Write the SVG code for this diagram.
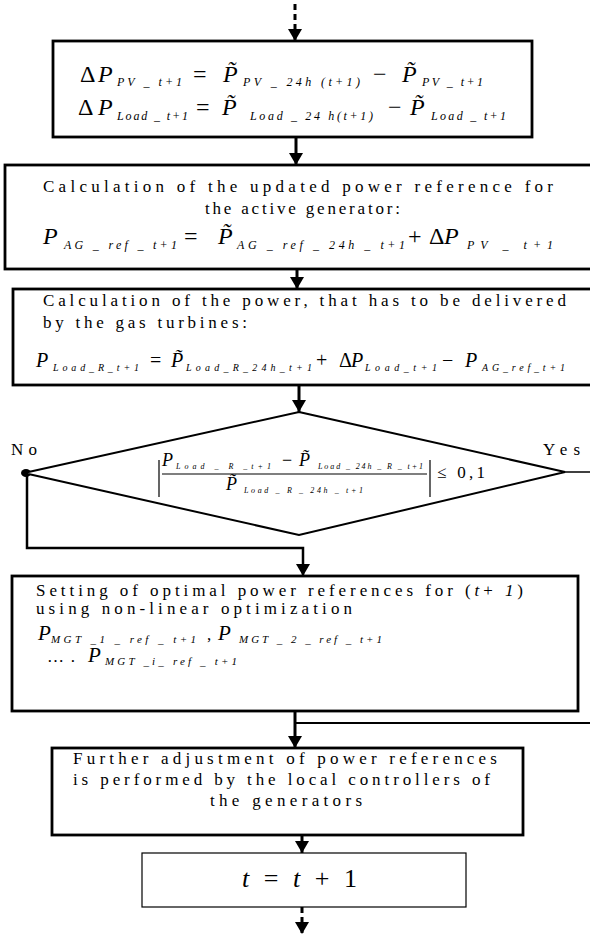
<svg xmlns="http://www.w3.org/2000/svg" width="590" height="936" viewBox="0 0 590 936">
<style>
.box{fill:#fff;stroke:#000;stroke-width:2.8}
.thin{stroke-width:1.2}
.t{font-family:"Liberation Serif","Times New Roman",serif;font-size:17px;fill:#000}
.m{font-family:"Liberation Serif","Times New Roman",serif;font-style:italic;font-size:24px;fill:#000}
.n{font-family:"Liberation Serif","Times New Roman",serif;font-size:24px;fill:#000}
.s{font-family:"Liberation Serif","Times New Roman",serif;font-style:italic;font-size:12px;fill:#000}
.c{fill:none;stroke:#000;stroke-width:3}
.d{stroke-dasharray:6 4}
.fl{stroke:#000;stroke-width:1.2;fill:none}
</style>
<defs>
<marker id="ah" viewBox="0 0 12 14" refX="12" refY="7" markerWidth="12" markerHeight="14" markerUnits="userSpaceOnUse" orient="auto">
<path d="M0,0 L12,7 L0,14 z" fill="#000"/>
</marker>
</defs>
<g id="connectors">
<path class="c d" d="M295,4 V41" marker-end="url(#ah)"/>
<path class="c" d="M296,137 V165" marker-end="url(#ah)"/>
<path class="c" d="M297,269 V289" marker-end="url(#ah)"/>
<path class="c" d="M299,385 V412" marker-end="url(#ah)"/>
<path class="c" style="stroke-width:2.5" d="M27,473 V548 H303 V576" marker-end="url(#ah)"/>
<path class="c" style="stroke-width:1.5" d="M565,472 H590"/>
<path class="c" style="stroke-width:2" d="M590,723 H295"/>
<path class="c" d="M295,711 V748" marker-end="url(#ah)"/>
<path class="c" d="M302,835 V853" marker-end="url(#ah)"/>
<path class="c d" d="M302,907 V934" marker-end="url(#ah)"/>
<ellipse cx="26" cy="473" rx="5" ry="4" fill="#000"/>
</g>
<g id="n1">
<rect class="box" x="53" y="41" width="479" height="96"/>
<text class="n" x="80" y="82">Δ</text>
<text class="m" x="98" y="82">P</text>
<text class="s" x="117" y="86" textLength="65" lengthAdjust="spacing">PV _ t+1</text>
<text class="n" x="193" y="82">=</text>
<text class="m" x="223" y="82">P̃</text>
<text class="s" x="243" y="86" textLength="117" lengthAdjust="spacing">PV _ 24h (t+1)</text>
<text class="n" x="373" y="82">−</text>
<text class="m" x="402" y="82">P̃</text>
<text class="s" x="422" y="86" textLength="61" lengthAdjust="spacing">PV _ t+1</text>
<text class="n" x="78" y="115">Δ</text>
<text class="m" x="98" y="115">P</text>
<text class="s" x="117" y="120" textLength="71" lengthAdjust="spacing">Load _ t+1</text>
<text class="n" x="196" y="115">=</text>
<text class="m" x="222" y="115">P̃</text>
<text class="s" x="250" y="120" textLength="123" lengthAdjust="spacing">Load _ 24 h(t+1)</text>
<text class="n" x="388" y="115">−</text>
<text class="m" x="410" y="115">P̃</text>
<text class="s" x="431" y="120" textLength="75" lengthAdjust="spacing">Load _ t+1</text>
</g>
<g id="n2">
<rect class="box" x="5" y="165" width="600" height="104"/>
<text class="t" x="43" y="192" textLength="510" lengthAdjust="spacing">Calculation of the updated power reference for</text>
<text class="t" x="205" y="214" textLength="195" lengthAdjust="spacing">the active generator:</text>
<text class="m" x="43" y="244">P</text>
<text class="s" x="64" y="249" textLength="113" lengthAdjust="spacing">AG _ ref _ t+1</text>
<text class="n" x="184" y="244">=</text>
<text class="m" x="218" y="244">P̃</text>
<text class="s" x="237" y="249" textLength="168" lengthAdjust="spacing">AG _ ref _ 24h _ t+1</text>
<text class="n" x="408" y="244">+</text>
<text class="n" x="429" y="244">Δ</text>
<text class="m" x="444" y="244">P</text>
<text class="s" x="467" y="249" textLength="86" lengthAdjust="spacing">PV _ t+1</text>
</g>
<g id="n3">
<rect class="box" x="13" y="289" width="600" height="96"/>
<text class="t" x="43" y="306" textLength="523" lengthAdjust="spacing">Calculation of the power, that has to be delivered</text>
<text class="t" x="43" y="328" textLength="204" lengthAdjust="spacing">by the gas turbines:</text>
<text class="m" x="36" y="367" style="font-size:20px">P</text>
<text class="s" x="53" y="371" textLength="86" lengthAdjust="spacing" style="font-size:10px">Load_R_t+1</text>
<text class="n" x="150" y="367" style="font-size:20px">=</text>
<text class="m" x="171" y="367" style="font-size:20px">P̃</text>
<text class="s" x="186" y="371" textLength="126" lengthAdjust="spacing" style="font-size:10px">Load_R_24h_t+1</text>
<text class="n" x="316" y="367" style="font-size:20px">+</text>
<text class="n" x="339" y="367" style="font-size:20px">Δ</text>
<text class="m" x="351" y="367" style="font-size:20px">P</text>
<text class="s" x="365" y="371" textLength="72" lengthAdjust="spacing" style="font-size:10px">Load_t+1</text>
<text class="n" x="442" y="367" style="font-size:20px">−</text>
<text class="m" x="465" y="367" style="font-size:20px">P</text>
<text class="s" x="482" y="371" textLength="83" lengthAdjust="spacing" style="font-size:10px">AG_ref_t+1</text>
</g>
<g id="n4">
<polygon points="299,412 565,472 299,535 24,473" fill="#fff" stroke="#000" stroke-width="2"/>
<text class="t" x="11" y="455" textLength="26" lengthAdjust="spacing">No</text>
<text class="t" x="543" y="455" textLength="37" lengthAdjust="spacing">Yes</text>
<path class="fl" d="M159,460 V497 M430,460 V497 M162,474 H427"/>
<text class="m" x="162" y="466" style="font-size:18px">P</text>
<text class="s" x="176" y="469" textLength="95" lengthAdjust="spacing" style="font-size:8px">Load _ R _t+1</text>
<text class="n" x="282" y="466" style="font-size:18px">−</text>
<text class="m" x="299" y="466" style="font-size:18px">P̃</text>
<text class="s" x="318" y="469" textLength="105" lengthAdjust="spacing" style="font-size:8px">Load _ 24h _ R _ t+1</text>
<text class="m" x="226" y="490" style="font-size:18px">P̃</text>
<text class="s" x="244" y="493" textLength="119" lengthAdjust="spacing" style="font-size:8px">Load _ R _ 24h _ t+1</text>
<text class="t" x="437" y="478" textLength="48" lengthAdjust="spacing">≤ 0,1</text>
</g>
<g id="n5">
<rect class="box" x="12" y="576" width="566" height="135"/>
<text class="t" x="36" y="596" textLength="487" lengthAdjust="spacing">Setting of optimal power references for (<tspan font-style="italic">t</tspan>+ <tspan font-style="italic">1</tspan>)</text>
<text class="t" x="36" y="614" textLength="316" lengthAdjust="spacing">using non-linear optimization</text>
<text class="m" x="38" y="640" style="font-size:21px">P</text>
<text class="s" x="51" y="643" textLength="145" lengthAdjust="spacing" style="font-size:11px">MGT _1 _ ref _ t+1</text>
<text class="t" x="207" y="640">,</text>
<text class="m" x="218" y="640" style="font-size:21px">P</text>
<text class="s" x="239" y="643" textLength="143" lengthAdjust="spacing" style="font-size:11px">MGT _ 2 _ ref _ t+1</text>
<text class="t" x="47" y="662" textLength="28" lengthAdjust="spacing">… .</text>
<text class="m" x="88" y="662" style="font-size:21px">P</text>
<text class="s" x="105" y="665" textLength="132" lengthAdjust="spacing" style="font-size:11px">MGT _i_ ref _ t+1</text>
</g>
<g id="n6">
<rect class="box" x="52" y="748" width="471" height="87"/>
<text class="t" x="73" y="764" textLength="424" lengthAdjust="spacing">Further adjustment of power references</text>
<text class="t" x="73" y="785" textLength="417" lengthAdjust="spacing">is performed by the local controllers of</text>
<text class="t" x="210" y="806" textLength="152" lengthAdjust="spacing">the generators</text>
</g>
<g id="n7">
<rect class="box thin" x="142" y="853" width="324" height="54"/>
<text class="n" x="242" y="887" textLength="115" lengthAdjust="spacing" style="font-size:26px"><tspan font-style="italic">t</tspan> = <tspan font-style="italic">t</tspan> + 1</text>
</g>
</svg>
